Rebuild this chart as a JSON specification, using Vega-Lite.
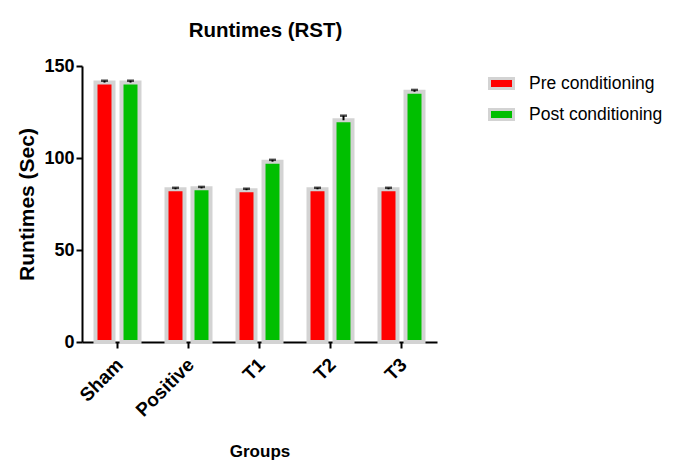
{
  "$schema": "https://vega.github.io/schema/vega-lite/v6.json",
  "width": 355,
  "height": 276,
  "autosize": {"type": "none"},
  "padding": {"left": 82, "top": 66, "right": 240, "bottom": 120},
  "config": {
    "font": "Liberation Sans",
    "view": {"stroke": null},
    "axis": {"domainColor": "black", "domainWidth": 2, "tickColor": "black", "tickWidth": 2, "tickSize": 6, "grid": false, "labelColor": "black", "titleColor": "black", "zindex": 1}
  },
  "title": {"text": "Runtimes (RST)", "fontSize": 20.5, "fontWeight": "bold", "color": "black", "anchor": "middle", "dx": 6, "dy": 8, "offset": 8, "baseline": "alphabetic"},
  "data": {
    "values": [
      {"group": "Sham", "cond": "Pre conditioning", "value": 141, "err": 1},
      {"group": "Sham", "cond": "Post conditioning", "value": 141, "err": 1},
      {"group": "Positive", "cond": "Pre conditioning", "value": 83, "err": 0.8},
      {"group": "Positive", "cond": "Post conditioning", "value": 83.5, "err": 0.8},
      {"group": "T1", "cond": "Pre conditioning", "value": 82.5, "err": 0.8},
      {"group": "T1", "cond": "Post conditioning", "value": 98, "err": 1},
      {"group": "T2", "cond": "Pre conditioning", "value": 83, "err": 0.8},
      {"group": "T2", "cond": "Post conditioning", "value": 120.5, "err": 2.5},
      {"group": "T3", "cond": "Pre conditioning", "value": 83, "err": 0.8},
      {"group": "T3", "cond": "Post conditioning", "value": 136, "err": 1}
    ]
  },
  "transform": [{"calculate": "datum.value + datum.err", "as": "hi"}],
  "encoding": {
    "x": {
      "field": "group", "type": "nominal",
      "sort": ["Sham", "Positive", "T1", "T2", "T3"],
      "scale": {"paddingInner": 0, "paddingOuter": 0},
      "axis": {"labelAngle": -45, "labelFontSize": 19, "labelFontWeight": "bold", "labelPadding": 7, "labelOffset": -4, "title": "Groups", "titleFontSize": 17, "titleFontWeight": "bold", "titleY": 114, "titleBaseline": "alphabetic"}
    },
    "xOffset": {
      "field": "cond", "type": "nominal",
      "sort": ["Pre conditioning", "Post conditioning"],
      "scale": {"paddingInner": 0.308, "paddingOuter": 0.519}
    }
  },
  "layer": [
    {
      "mark": {"type": "bar", "stroke": "#d3d3d3", "strokeWidth": 4},
      "encoding": {
        "y": {
          "field": "value", "type": "quantitative",
          "scale": {"domain": [0, 150], "nice": false},
          "axis": {"values": [0, 50, 100, 150], "labelFontSize": 18, "labelFontWeight": "bold", "labelPadding": 2, "title": "Runtimes (Sec)", "titleFontSize": 21, "titleFontWeight": "bold", "titleX": -49, "titleY": 138, "titleAlign": "center", "titleBaseline": "alphabetic"}
        },
        "color": {
          "field": "cond", "type": "nominal",
          "sort": ["Pre conditioning", "Post conditioning"],
          "scale": {"domain": ["Pre conditioning", "Post conditioning"], "range": ["#ff0000", "#00bf00"]},
          "legend": {
            "title": null, "orient": "none", "legendX": 406, "legendY": 4,
            "labelFontSize": 17.5, "labelColor": "black", "labelOffset": 14,
            "symbolType": "M-1,-0.42H1V0.42H-1Z", "symbolSize": 576,
            "symbolStrokeColor": "#d3d3d3", "symbolStrokeWidth": 3, "symbolOpacity": 1,
            "rowPadding": 6
          }
        }
      }
    },
    {
      "mark": {"type": "rule", "color": "black", "strokeWidth": 2},
      "encoding": {"y": {"field": "value", "type": "quantitative", "scale": {"domain": [0, 150], "nice": false}}, "y2": {"field": "hi"}}
    },
    {
      "mark": {"type": "tick", "color": "black", "thickness": 2.5, "size": 7},
      "encoding": {"y": {"field": "hi", "type": "quantitative", "scale": {"domain": [0, 150], "nice": false}}}
    }
  ]
}
